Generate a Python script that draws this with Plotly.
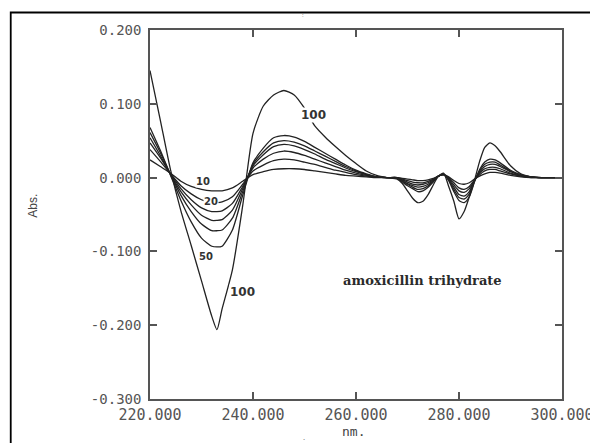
import plotly.graph_objects as go

# ---------------- data ----------------
wavelength = [220, 222, 224, 226, 228, 230, 232, 233, 234, 236, 238, 240, 242, 244, 246, 248,
              250, 252, 254, 256, 258, 260, 262, 264,
              266, 268, 269, 270, 271, 272, 273, 274, 275, 276, 277, 278, 279, 280, 281, 282,
              283, 284, 285, 286, 287, 288, 290, 292, 294, 296, 298, 300]

abs_10 = [0.024, 0.015, 0.006, -0.005, -0.012, -0.016, -0.018, -0.018, -0.018, -0.014, -0.005, 0.004,
          0.008, 0.011, 0.012, 0.012, 0.011, 0.009, 0.007, 0.005, 0.003, 0.002, 0.001, 0.000,
          0.000, 0.000, -0.001, -0.002, -0.003, -0.004, -0.004, -0.003, -0.001, 0.002, 0.004, 0.001,
          -0.004, -0.008, -0.009, -0.007, -0.002, 0.002, 0.005, 0.007, 0.007, 0.006, 0.003, 0.001,
          0.000, 0.000, 0.000, 0.000]
abs_20 = [0.038, 0.022, 0.005, -0.011, -0.022, -0.030, -0.034, -0.034, -0.033, -0.026, -0.009, 0.009,
          0.017, 0.023, 0.025, 0.024, 0.021, 0.018, 0.014, 0.010, 0.007, 0.004, 0.002, 0.001,
          0.000, 0.000, -0.002, -0.004, -0.006, -0.007, -0.007, -0.005, -0.002, 0.002, 0.004, 0.000,
          -0.007, -0.014, -0.016, -0.012, -0.003, 0.004, 0.009, 0.011, 0.011, 0.009, 0.005, 0.002,
          0.000, 0.000, 0.000, 0.000]
abs_25 = [0.047, 0.027, 0.005, -0.015, -0.030, -0.041, -0.046, -0.046, -0.045, -0.035, -0.012, 0.013,
          0.025, 0.033, 0.036, 0.034, 0.030, 0.025, 0.020, 0.015, 0.010, 0.006, 0.003, 0.001,
          0.000, 0.000, -0.003, -0.006, -0.009, -0.010, -0.009, -0.007, -0.003, 0.002, 0.004, -0.001,
          -0.010, -0.018, -0.020, -0.015, -0.004, 0.006, 0.012, 0.014, 0.014, 0.012, 0.006, 0.002,
          0.001, 0.000, 0.000, 0.000]
abs_30 = [0.054, 0.030, 0.004, -0.019, -0.037, -0.051, -0.058, -0.058, -0.057, -0.044, -0.015, 0.016,
          0.031, 0.042, 0.045, 0.043, 0.038, 0.032, 0.025, 0.019, 0.013, 0.008, 0.004, 0.001,
          0.000, 0.000, -0.004, -0.008, -0.011, -0.013, -0.012, -0.009, -0.004, 0.002, 0.004, -0.002,
          -0.013, -0.023, -0.025, -0.019, -0.004, 0.007, 0.015, 0.018, 0.018, 0.015, 0.008, 0.003,
          0.001, 0.000, 0.000, 0.000]
abs_40 = [0.061, 0.034, 0.004, -0.024, -0.046, -0.063, -0.072, -0.072, -0.071, -0.055, -0.019, 0.018,
          0.035, 0.047, 0.050, 0.048, 0.043, 0.036, 0.029, 0.022, 0.015, 0.009, 0.004, 0.001,
          0.000, -0.001, -0.005, -0.009, -0.013, -0.016, -0.015, -0.011, -0.005, 0.002, 0.004, -0.003,
          -0.016, -0.027, -0.029, -0.022, -0.005, 0.009, 0.018, 0.021, 0.021, 0.017, 0.009, 0.003,
          0.001, 0.000, 0.000, 0.000]
abs_50 = [0.068, 0.037, 0.003, -0.031, -0.060, -0.082, -0.093, -0.094, -0.093, -0.071, -0.024, 0.020,
          0.040, 0.054, 0.057, 0.055, 0.049, 0.041, 0.033, 0.025, 0.017, 0.010, 0.005, 0.001,
          0.000, -0.001, -0.006, -0.011, -0.015, -0.019, -0.018, -0.013, -0.006, 0.002, 0.005, -0.004,
          -0.019, -0.031, -0.034, -0.026, -0.006, 0.011, 0.021, 0.025, 0.024, 0.020, 0.010, 0.004,
          0.001, 0.000, 0.000, 0.000]
abs_100 = [0.145, 0.078, 0.010, -0.045, -0.092, -0.140, -0.188, -0.206, -0.178, -0.125, -0.038, 0.060,
           0.097, 0.112, 0.118, 0.112, 0.094, 0.070, 0.055, 0.042, 0.030, 0.019, 0.009, 0.003,
           0.000, -0.002, -0.008, -0.018, -0.028, -0.034, -0.032, -0.023, -0.010, 0.002, 0.006, -0.012,
           -0.032, -0.056, -0.046, -0.026, -0.004, 0.022, 0.041, 0.047, 0.043, 0.035, 0.016, 0.005,
           0.001, 0.000, 0.000, 0.000]

series = [abs_10, abs_20, abs_25, abs_30, abs_40, abs_50, abs_100]

x_tickvals = [220, 240, 260, 280, 300]
x_ticktext = ["220.000", "240.000", "260.000", "280.000", "300.000"]
y_tickvals = [0.2, 0.1, 0.0, -0.1, -0.2, -0.3]
y_ticktext = ["0.200", "0.100", "0.000", "-0.100", "-0.200", "-0.300"]

# curve labels: (text, wavelength, value)
curve_labels = [("100", 251.8, 0.085), ("100", 238.0, -0.155),
                ("10", 230.3, -0.005), ("20", 231.9, -0.032), ("50", 230.9, -0.107)]
compound = "amoxicillin trihydrate"

# ---------------- figure ----------------
fig = go.Figure()
for s in series:
    fig.add_trace(go.Scatter(x=wavelength, y=s, mode="lines",
                             line=dict(color="#222222", width=1.3, shape="spline", smoothing=0.6),
                             showlegend=False, hoverinfo="skip"))

W, H = 598, 443
OFF = 8  # page body margin offset of the plot div
# target plot area in window pixels: x 150..568, y 30..399
L = 150 - OFF
T = 30 - OFF
R = W - (568 - OFF)
B = H - (399 - OFF)
pw, ph = W - L - R, H - T - B


def px(xp):
    return (xp - OFF - L) / pw


def py(yp):
    return (H - B - (yp - OFF)) / ph


axis_common = dict(showline=True, linecolor="#555555", linewidth=1.5, mirror="ticks",
                   ticks="inside", ticklen=7, tickwidth=1.5, tickcolor="#555555",
                   showgrid=False, zeroline=False)

fig.update_xaxes(range=[220, 300], tickvals=x_tickvals, ticktext=x_ticktext,
                 tickfont=dict(family="DejaVu Sans Mono", size=15, color="#555555"),
                 ticklabelstandoff=1, **axis_common)
fig.update_yaxes(range=[-0.3, 0.2], tickvals=y_tickvals, ticktext=y_ticktext,
                 tickfont=dict(family="DejaVu Sans Mono", size=14, color="#555555"),
                 ticklabelstandoff=4, **axis_common)

annotations = []
for text, xv, yv in curve_labels:
    big = text == "100"
    annotations.append(dict(x=xv, y=yv, xref="x", yref="y", text=text, showarrow=False,
                            xanchor="center", yanchor="middle",
                            bgcolor="white", borderpad=0,
                            font=dict(family="DejaVu Sans", size=12 if big else 10,
                                      color="#333333", weight="bold")))
annotations.append(dict(x=273.0, y=-0.139, xref="x", yref="y", text=compound, showarrow=False,
                        xanchor="center", yanchor="middle",
                        font=dict(family="DejaVu Serif", size=13, color="#2a2a2a", weight="bold")))
annotations.append(dict(x=px(31), y=py(206), xref="paper", yref="paper", text="Abs.",
                        textangle=-90, showarrow=False, xanchor="center", yanchor="middle",
                        font=dict(family="Liberation Sans", size=12, color="#444444")))
annotations.append(dict(x=px(356), y=py(431), xref="paper", yref="paper", text="nm.",
                        showarrow=False, xanchor="center", yanchor="middle",
                        font=dict(family="DejaVu Sans Mono", size=13, color="#444444")))
annotations.append(dict(x=px(305), y=py(15), xref="paper", yref="paper", text=":",
                        showarrow=False, xanchor="center", yanchor="middle",
                        font=dict(size=6, color="#666666")))
annotations.append(dict(x=px(306), y=py(437), xref="paper", yref="paper", text=".",
                        showarrow=False, xanchor="center", yanchor="middle",
                        font=dict(size=8, color="#666666")))

fig.update_layout(
    width=W, height=H,
    margin=dict(l=L, r=R, t=T, b=B),
    paper_bgcolor="white", plot_bgcolor="white",
    annotations=annotations,
    shapes=[dict(type="rect", xref="paper", yref="paper",
                 x0=px(8.7), x1=px(620), y0=py(470), y1=py(12.5),
                 line=dict(color="black", width=1.8), layer="above")],
)

fig.write_html("out.html")
